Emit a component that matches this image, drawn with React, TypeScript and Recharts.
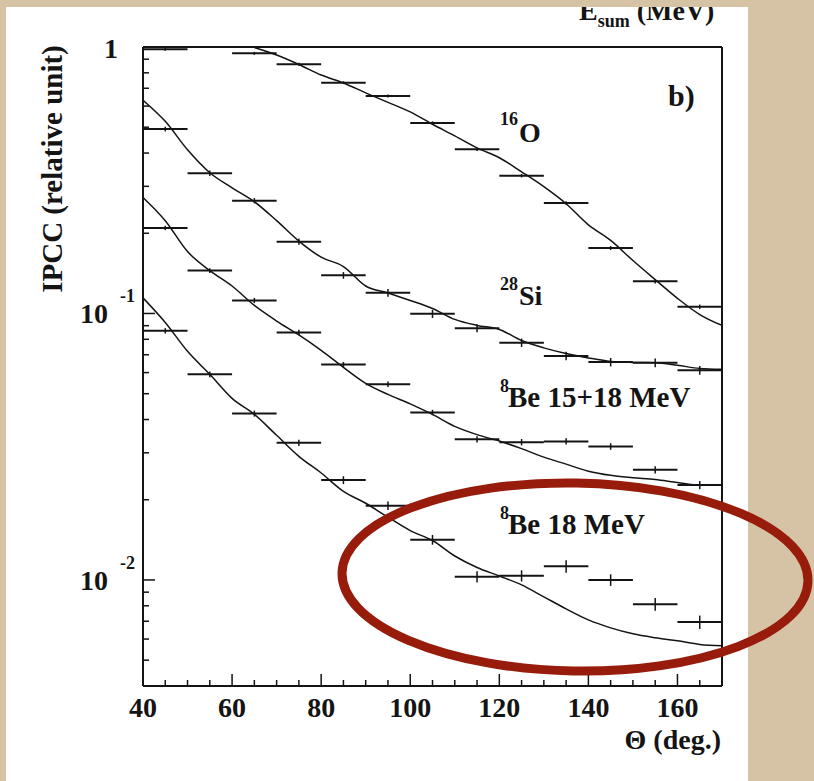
import { ComposedChart, Line, Scatter, ErrorBar, XAxis, YAxis, ReferenceLine } from "recharts";

// measured bins (centre of each 10 deg bin)
const theta = [45, 55, 65, 75, 85, 95, 105, 115, 125, 135, 145, 155, 165];
const halfBin = [5, 5, 5, 5, 5, 5, 5, 5, 5, 5, 5, 5, 5];

const o16Points = [0.98, null, 0.947, 0.861, 0.735, 0.655, 0.519, 0.413, 0.329, 0.26, 0.176, 0.132, 0.106];
const o16Err = [0.012, null, 0.012, 0.011, 0.009, 0.008, 0.007, 0.006, 0.005, 0.004, 0.003, 0.0025, 0.002];
const si28Points = [0.492, 0.336, 0.265, 0.186, 0.139, 0.1196, 0.0997, 0.0881, 0.0777, 0.0693, 0.0657, 0.0653, 0.0612];
const si28Err = [0.01, 0.008, 0.006, 0.005, 0.004, 0.004, 0.0035, 0.003, 0.0028, 0.0025, 0.0024, 0.0024, 0.0023];
const be1518Points = [0.2094, 0.1449, 0.1119, 0.0849, 0.0643, 0.0543, 0.0425, 0.0337, 0.0329, 0.0331, 0.0317, 0.0259, 0.0227];
const be1518Err = [0.004, 0.003, 0.0025, 0.002, 0.0015, 0.0013, 0.001, 0.0009, 0.0009, 0.0009, 0.0009, 0.0008, 0.0008];
const be18Points = [0.0861, 0.0591, 0.0421, 0.0327, 0.0237, 0.019, 0.01416, 0.01029, 0.01037, 0.01125, 0.01, 0.00811, 0.00695];
const be18Err = [0.002, 0.0015, 0.0011, 0.0009, 0.0008, 0.0007, 0.0006, 0.0005, 0.0005, 0.0006, 0.0005, 0.00045, 0.0004];

// simulation curves
const curveTheta = [40, 45, 50, 55, 60, 65, 70, 75, 80, 85, 90, 95, 100, 105, 110, 115, 120, 125, 130, 135, 140, 145, 150, 155, 160, 165, 170];
const o16Curve = [null, null, null, null, null, 0.996, 0.933, 0.86, 0.785, 0.733, 0.673, 0.62, 0.571, 0.513, 0.464, 0.418, 0.384, 0.34, 0.299, 0.258, 0.215, 0.188, 0.158, 0.134, 0.114, 0.0991, 0.0902];
const si28Curve = [0.6315, 0.526, 0.4113, 0.3374, 0.2963, 0.2627, 0.223, 0.1869, 0.1627, 0.15, 0.1268, 0.1193, 0.1119, 0.1044, 0.095, 0.0902, 0.0871, 0.0792, 0.0743, 0.0707, 0.0681, 0.0661, 0.0655, 0.0653, 0.0639, 0.0622, 0.0617];
const be1518Curve = [0.2726, 0.223, 0.1707, 0.1449, 0.1268, 0.1072, 0.0937, 0.0831, 0.0727, 0.0628, 0.0547, 0.0497, 0.0458, 0.0418, 0.0377, 0.0351, 0.0332, 0.0311, 0.0289, 0.0272, 0.0256, 0.0247, 0.0242, 0.0238, 0.0232, 0.0227, 0.0227];
const be18Curve = [0.1145, 0.0925, 0.0721, 0.0591, 0.048, 0.0418, 0.0349, 0.0291, 0.0252, 0.0215, 0.0194, 0.0172, 0.01532, 0.01406, 0.0123, 0.01114, 0.01035, 0.00958, 0.00864, 0.00779, 0.00708, 0.00661, 0.00628, 0.00607, 0.00591, 0.00573, 0.00566];

const xTicks = [40, 45, 50, 55, 60, 65, 70, 75, 80, 85, 90, 95, 100, 105, 110, 115, 120, 125, 130, 135, 140, 145, 150, 155, 160, 165, 170];
const xLabels = [40, 60, 80, 100, 120, 140, 160];
const yTicks = [
  0.005, 0.006, 0.007, 0.008, 0.009, 0.01,
  0.02, 0.03, 0.04, 0.05, 0.06, 0.07, 0.08, 0.09, 0.1,
  0.2, 0.3, 0.4, 0.5, 0.6, 0.7, 0.8, 0.9, 1,
];
const yMajor = [0.01, 0.1, 1];

const FONT = "'Liberation Serif', 'DejaVu Serif', serif";
const INK = "#141414";

const points = (vals: (number | null)[], errs: (number | null)[]) =>
  theta
    .map((t, i) => ({ x: t, y: vals[i], xe: halfBin[i], ye: errs[i] }))
    .filter((d) => d.y != null);

const curve = (vals: (number | null)[]) =>
  curveTheta.map((t, i) => ({ x: t, y: vals[i] })).filter((d) => d.y != null);

const noShape = () => <g />;

const XTick = (props: any) => {
  const { x, y, payload } = props;
  const v = payload.value;
  const major = v % 20 === 0;
  return (
    <g>
      <line x1={x} x2={x} y1={y} y2={y - (major ? 12 : 6)} stroke={INK} strokeWidth={1.5} />
      {xLabels.includes(v) && (
        <text x={x} y={y + 31} textAnchor="middle" fontSize={28} fontWeight="bold" fontFamily={FONT} fill={INK}>
          {v}
        </text>
      )}
    </g>
  );
};

const YTick = (props: any) => {
  const { x, y, payload } = props;
  const v = payload.value;
  const major = yMajor.includes(v);
  const exp = Math.round(Math.log10(v));
  return (
    <g>
      <line x1={x} x2={x + (major ? 12 : 6)} y1={y} y2={y} stroke={INK} strokeWidth={1.5} />
      {major && exp === 0 && (
        <text x={x - 25} y={y + 11} textAnchor="end" fontSize={28} fontWeight="bold" fontFamily={FONT} fill={INK}>
          1
        </text>
      )}
      {major && exp !== 0 && (
        <g fontWeight="bold" fontFamily={FONT} fill={INK}>
          <text x={x - 35} y={y + 10} textAnchor="end" fontSize={28}>
            10
          </text>
          <text x={x - 23} y={y - 11} fontSize={18}>
            {String(exp)}
          </text>
        </g>
      )}
    </g>
  );
};

const series = [
  { pts: points(o16Points, o16Err), line: curve(o16Curve) },
  { pts: points(si28Points, si28Err), line: curve(si28Curve) },
  { pts: points(be1518Points, be1518Err), line: curve(be1518Curve) },
  { pts: points(be18Points, be18Err), line: curve(be18Curve) },
];

export default function App() {
  return (
    <div style={{ position: "absolute", left: 0, top: 0, width: 814, height: 781, background: "#d6c3a6", overflow: "hidden" }}>
      <div style={{ position: "absolute", left: 6, top: 7, width: 742, height: 774, background: "#fff" }} />
      <div style={{ position: "absolute", left: 0, top: 0 }}>
        <ComposedChart width={814} height={781} margin={{ top: 47, right: 92, bottom: 55, left: 83 }}>
          <XAxis
            dataKey="x"
            type="number"
            domain={[40, 170]}
            ticks={xTicks}
            interval={0}
            tickSize={0}
            tickMargin={0}
            height={40}
            axisLine={{ stroke: INK, strokeWidth: 2 }}
            tickLine={false}
            tick={<XTick />}
            allowDataOverflow
          />
          <YAxis
            type="number"
            scale="log"
            domain={[0.004, 1]}
            ticks={yTicks}
            interval={0}
            tickSize={0}
            tickMargin={0}
            width={60}
            axisLine={{ stroke: INK, strokeWidth: 2 }}
            tickLine={false}
            tick={<YTick />}
            allowDataOverflow
          />
          <ReferenceLine y={1} stroke={INK} strokeWidth={2} />
          <ReferenceLine x={170} stroke={INK} strokeWidth={2} />
          {series.map((s, i) => (
            <Line
              key={"l" + i}
              data={s.line}
              dataKey="y"
              type="monotone"
              stroke={INK}
              strokeWidth={1.5}
              dot={false}
              isAnimationActive={false}
            />
          ))}
          {series.map((s, i) => (
            <Scatter key={"s" + i} data={s.pts} dataKey="y" shape={noShape} isAnimationActive={false}>
              <ErrorBar dataKey="xe" direction="x" width={0} stroke={INK} strokeWidth={2} isAnimationActive={false} />
              <ErrorBar dataKey="ye" direction="y" width={0} stroke={INK} strokeWidth={1.5} isAnimationActive={false} />
            </Scatter>
          ))}
        </ComposedChart>
      </div>
      <svg width={814} height={781} style={{ position: "absolute", left: 0, top: 0, pointerEvents: "none" }}>
        <defs>
          <clipPath id="panelClip">
            <rect x={6} y={7} width={742} height={774} />
          </clipPath>
        </defs>
        <g fontFamily={FONT} fontWeight="bold" fill={INK}>
          <text clipPath="url(#panelClip)" x={579} y={20} fontSize={28}>
            E
            <tspan fontSize={18} dy={7}>sum</tspan>
            <tspan fontSize={28} dy={-7}> (MeV)</tspan>
          </text>
          <text transform="translate(62,169) rotate(-90)" textAnchor="middle" fontSize={29}>
            IPCC (relative unit)
          </text>
          <text x={721} y={749} textAnchor="end" fontSize={28}>
            Θ (deg.)
          </text>
          <text x={668} y={106} fontSize={30}>b)</text>
          <text x={500} y={125} fontSize={18}>16</text>
          <text x={519} y={142} fontSize={28}>O</text>
          <text x={500} y={290} fontSize={18}>28</text>
          <text x={519} y={305} fontSize={28}>Si</text>
          <text x={500} y={392} fontSize={18}>8</text>
          <text x={508} y={407} fontSize={29}>Be 15+18 MeV</text>
          <text x={500} y={519} fontSize={18}>8</text>
          <text x={508} y={534} fontSize={29}>Be 18 MeV</text>
        </g>
        <ellipse cx={575} cy={577} rx={233} ry={94} transform="rotate(1 575 577)" fill="none" stroke="#981c0c" strokeWidth={9} />
      </svg>
    </div>
  );
}
